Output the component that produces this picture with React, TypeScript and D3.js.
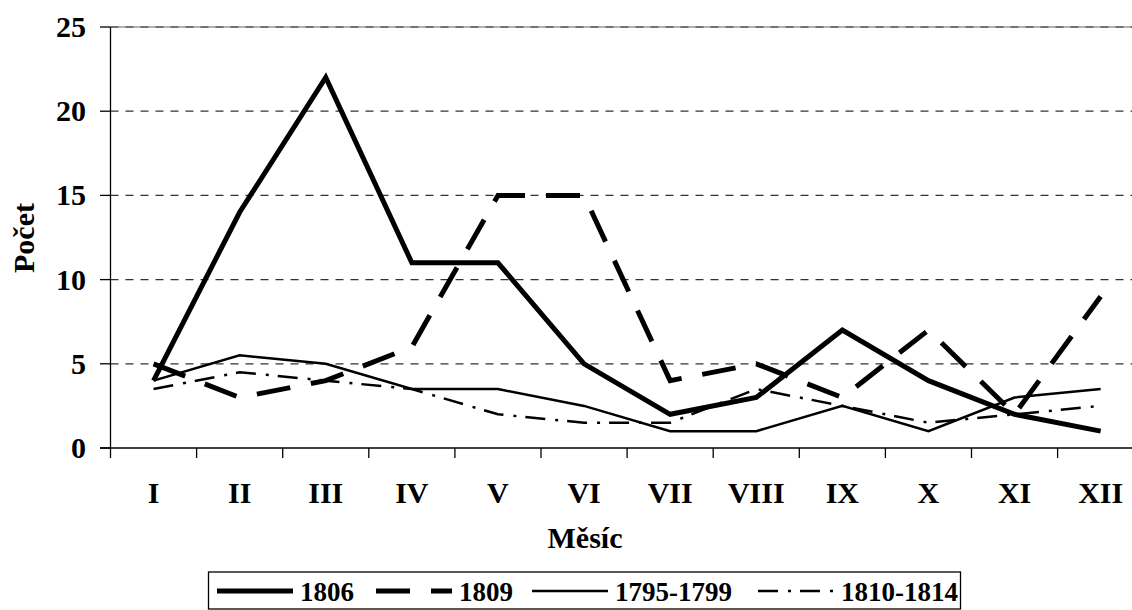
import React from "react";
import * as d3 from "d3";

const months = ["I", "II", "III", "IV", "V", "VI", "VII", "VIII", "IX", "X", "XI", "XII"];
const yTicks = [0, 5, 10, 15, 20, 25];
const s1806 = [4, 14, 22, 11, 11, 5, 2, 3, 7, 4, 2, 1];
const s1809 = [5, 3, 4, 6, 15, 15, 4, 5, 3, 7, 2, 9];
const s1795 = [4, 5.5, 5, 3.5, 3.5, 2.5, 1, 1, 2.5, 1, 3, 3.5];
const s1810 = [3.5, 4.5, 4, 3.5, 2, 1.5, 1.5, 3.5, 2.5, 1.5, 2, 2.5];

const seriesNames = ["1806", "1809", "1795-1799", "1810-1814"];
const seriesData = [s1806, s1809, s1795, s1810];
const styles = [
  { w: 5, dash: "" },
  { w: 5, dash: "34 21" },
  { w: 2.5, dash: "" },
  { w: 2.5, dash: "20 10 3 9" },
];
const legendSample = [217, 376, 532, 758];

const FONT = "'Liberation Serif', 'Times New Roman', serif";

function T({ x, y, anchor = "middle", size = 30, rotate = 0, children }: any) {
  return (
    <text
      transform={`translate(${x},${y}) rotate(${rotate})`}
      textAnchor={anchor}
      fontFamily={FONT}
      fontWeight="bold"
      fontSize={size}
      fill="#000"
    >
      {children}
    </text>
  );
}

export default function App() {
  const W = 1132, H = 610;
  const left = 110.5, right = 110.5 + 12 * 86.1;
  const x = d3.scaleBand<string>().domain(months).range([left, right]);
  const cx = (m: string) => (x(m) as number) + x.bandwidth() / 2;
  const y = d3.scaleLinear().domain([0, 25]).range([448, 27]);
  const line = d3
    .line<number>()
    .x((_, i) => cx(months[i]))
    .y((d) => y(d));

  return (
    <svg width={W} height={H} style={{ position: "absolute", left: 0, top: 0, background: "#fff" }}>
      <rect width={W} height={H} fill="#fff" />
      {yTicks.filter((t) => t > 0).map((t) => (
        <g key={t}>
          {t === 25 && <line x1={left} x2={right} y1={y(t)} y2={y(t)} stroke="#999" strokeWidth={1.5} />}
          <line x1={left} x2={right} y1={y(t)} y2={y(t)} stroke="#333" strokeWidth={1.2} strokeDasharray="8 7" />
        </g>
      ))}
      <line x1={left} x2={left} y1={y(25)} y2={458} stroke="#000" strokeWidth={1.3} />
      {yTicks.map((t) => (
        <g key={t}>
          <line x1={100} x2={left} y1={y(t)} y2={y(t)} stroke="#000" strokeWidth={1.3} />
          <T x={86} y={y(t) + 10} anchor="end">{t}</T>
        </g>
      ))}
      <line x1={100} x2={right} y1={y(0)} y2={y(0)} stroke="#000" strokeWidth={1.3} />
      {months.map((m) => (
        <g key={m}>
          <line x1={(x(m) as number) + x.bandwidth()} x2={(x(m) as number) + x.bandwidth()} y1={y(0)} y2={458} stroke="#000" strokeWidth={1.3} />
          <T x={cx(m)} y={503}>{m}</T>
        </g>
      ))}
      {seriesData.map((d, i) => (
        <path
          key={seriesNames[i]}
          d={line(d) || ""}
          fill="none"
          stroke="#000"
          strokeWidth={styles[i].w}
          strokeDasharray={styles[i].dash || undefined}
          strokeLinejoin="miter"
        />
      ))}
      <T x={34} y={238} rotate={-90}>Počet</T>
      <T x={585} y={548}>Měsíc</T>
      <rect x={208.5} y={572} width={752} height={37} fill="none" stroke="#000" strokeWidth={1.3} />
      {seriesNames.map((n, i) => (
        <g key={n}>
          <line
            x1={legendSample[i]}
            x2={legendSample[i] + 76}
            y1={591}
            y2={591}
            stroke="#000"
            strokeWidth={styles[i].w}
            strokeDasharray={styles[i].dash || undefined}
          />
          <T x={legendSample[i] + 83} y={601} anchor="start" size={27}>{n}</T>
        </g>
      ))}
    </svg>
  );
}
